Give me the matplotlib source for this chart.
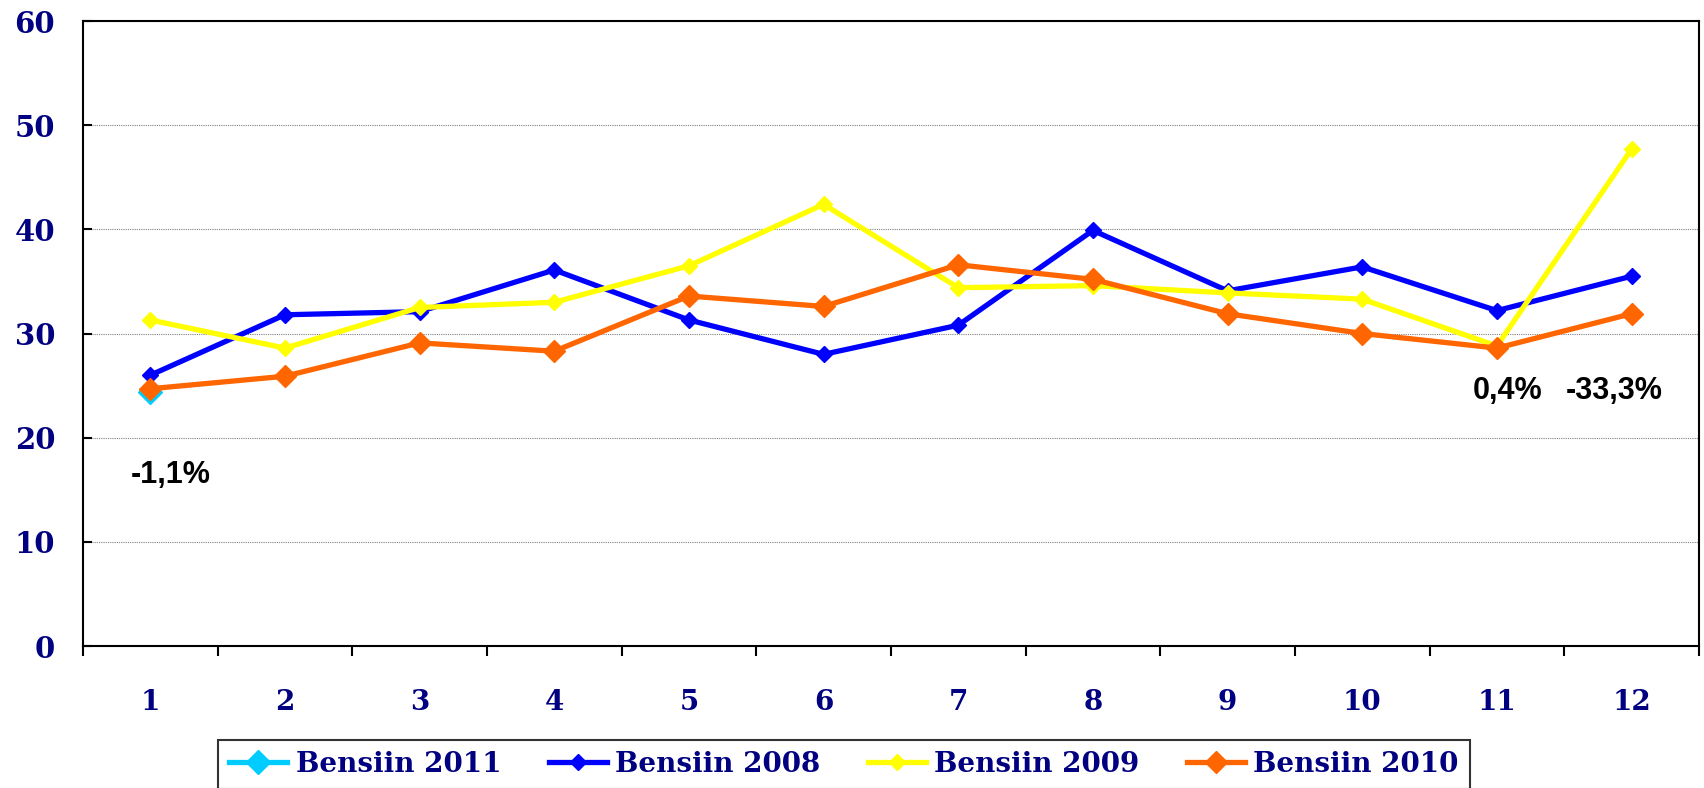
import matplotlib
matplotlib.use("Agg")
import matplotlib.pyplot as plt
import numpy as np

months = list(range(1, 13))
bensiin_2011 = [24.4]
bensiin_2008 = [26.0, 31.8, 32.1, 36.1, 31.3, 28.0, 30.8, 39.9, 34.1, 36.4, 32.2, 35.5]
bensiin_2009 = [31.3, 28.6, 32.5, 33.0, 36.5, 42.4, 34.4, 34.6, 33.9, 33.3, 28.8, 47.7]
bensiin_2010 = [24.7, 25.9, 29.1, 28.3, 33.6, 32.6, 36.6, 35.2, 31.9, 30.0, 28.6, 31.9]

notes = ["-1,1%", "0,4%", "-33,3%"]
note_x = [1.15, 11.08, 11.87]
note_y = [16.4, 24.5, 24.5]

navy = "#000080"
serif = "DejaVu Serif"

fig = plt.figure(figsize=(17.04, 7.88), dpi=100)
ax = fig.add_axes([0.0487, 0.1802, 0.9483, 0.7931])

ax.plot(months[:1], bensiin_2011, color="#00CCFF", lw=3.8, marker="D", ms=12,
        label="Bensiin 2011")
ax.plot(months, bensiin_2008, color="#0000FF", lw=3.8, marker="D", ms=8,
        label="Bensiin 2008")
ax.plot(months, bensiin_2009, color="#FFFF00", lw=3.8, marker="D", ms=8,
        label="Bensiin 2009")
ax.plot(months, bensiin_2010, color="#FF6600", lw=3.8, marker="D", ms=11,
        label="Bensiin 2010")

for t, x, y in zip(notes, note_x, note_y):
    ax.text(x, y, t, ha="center", va="center", fontsize=22, fontweight="bold",
            family="Liberation Sans", color="black")

ax.set_xlim(0.5, 12.5)
ax.set_ylim(0, 60)

# category boundaries as ticks, labels centred in between
ax.set_xticks(np.arange(0.5, 13, 1))
ax.set_xticklabels([])
ax.set_xticks(months, minor=True)
ax.set_xticklabels([str(m) for m in months], minor=True)
ax.tick_params(axis="x", which="major", direction="out", length=7, width=1.5)
ax.tick_params(axis="x", which="minor", length=0, pad=31, labelsize=20,
               labelcolor=navy)

ax.set_yticks(range(0, 61, 10))
ax.tick_params(axis="y", direction="in", length=6.5, width=1.5, pad=20,
               labelsize=21, labelcolor=navy)

for lab in ax.get_xticklabels(minor=True) + ax.get_yticklabels():
    lab.set_family(serif)
    lab.set_fontweight("bold")

ax.yaxis.grid(True, color="#808080", lw=0.8, ls=(0, (1, 1)))
ax.set_axisbelow(True)
for s in ax.spines.values():
    s.set_linewidth(1.5)
    s.set_color("black")

leg = ax.legend(loc="upper center", bbox_to_anchor=(0.4953, 0.061),
                bbox_transform=fig.transFigure, ncol=4, frameon=True,
                fancybox=False, edgecolor="black", handlelength=2.1,
                handletextpad=0.3, columnspacing=1.7, borderpad=0.4,
                borderaxespad=0,
                prop={"family": serif, "weight": "bold", "size": 20})
leg.get_frame().set_linewidth(1.5)
for t in leg.get_texts():
    t.set_color(navy)

fig.savefig("out.png", dpi=100)
